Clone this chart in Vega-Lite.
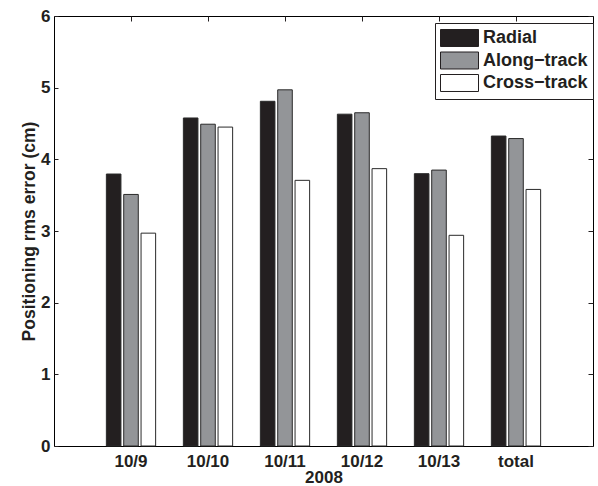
{
  "$schema": "https://vega.github.io/schema/vega-lite/v6.json",
  "width": 539,
  "height": 430,
  "autosize": {"type": "none"},
  "padding": {"left": 54, "top": 16, "right": 5, "bottom": 40},
  "background": "white",
  "config": {
    "view": {"stroke": "black", "strokeWidth": 1},
    "font": "Liberation Sans",
    "axis": {"grid": false, "labelFont": "Liberation Sans", "titleFont": "Liberation Sans", "labelFontWeight": "bold", "titleFontWeight": "bold", "labelColor": "#231f20", "titleColor": "#231f20", "domain": false, "tickColor": "#231f20"}
  },
  "data": {
    "values": [
      {"date": "10/9", "comp": "Radial", "rms": 3.795},
      {"date": "10/9", "comp": "Along−track", "rms": 3.51},
      {"date": "10/9", "comp": "Cross−track", "rms": 2.97},
      {"date": "10/10", "comp": "Radial", "rms": 4.577},
      {"date": "10/10", "comp": "Along−track", "rms": 4.49},
      {"date": "10/10", "comp": "Cross−track", "rms": 4.45},
      {"date": "10/11", "comp": "Radial", "rms": 4.81},
      {"date": "10/11", "comp": "Along−track", "rms": 4.97},
      {"date": "10/11", "comp": "Cross−track", "rms": 3.707},
      {"date": "10/12", "comp": "Radial", "rms": 4.63},
      {"date": "10/12", "comp": "Along−track", "rms": 4.65},
      {"date": "10/12", "comp": "Cross−track", "rms": 3.87},
      {"date": "10/13", "comp": "Radial", "rms": 3.8},
      {"date": "10/13", "comp": "Along−track", "rms": 3.85},
      {"date": "10/13", "comp": "Cross−track", "rms": 2.94},
      {"date": "total", "comp": "Radial", "rms": 4.325},
      {"date": "total", "comp": "Along−track", "rms": 4.29},
      {"date": "total", "comp": "Cross−track", "rms": 3.58}
    ]
  },
  "layer": [
    {
      "mark": {"type": "bar", "stroke": "#2a2a2a", "strokeWidth": 1},
      "encoding": {
        "x": {
          "field": "date", "type": "nominal", "sort": null,
          "scale": {"paddingInner": 0, "paddingOuter": 0.5},
          "axis": {"orient": "bottom", "labelAngle": 0, "labelFontSize": 17, "labelPadding": 7, "ticks": false, "title": "2008", "titleFontSize": 17, "titlePadding": 0}
        },
        "xOffset": {
          "field": "comp", "type": "nominal", "sort": null,
          "scale": {"paddingInner": 0.16, "paddingOuter": 0.8}
        },
        "y": {
          "field": "rms", "type": "quantitative",
          "scale": {"domain": [0, 6], "nice": false, "zero": true},
          "axis": {"orient": "left", "values": [0, 1, 2, 3, 4, 5, 6], "format": "d", "labelFontSize": 17, "tickSize": -4, "labelPadding": 8, "title": "Positioning rms error (cm)", "titleFontSize": 17.5, "titlePadding": 2}
        },
        "fill": {
          "field": "comp", "type": "nominal", "sort": null,
          "scale": {"domain": ["Radial", "Along−track", "Cross−track"], "range": ["#231f20", "#939598", "#ffffff"]},
          "legend": {
            "orient": "none", "legendX": 381, "legendY": 7, "title": null,
            "strokeColor": "#231f20", "fillColor": "white", "padding": 5,
            "symbolType": "M-1,-0.894H3V0.894H-1Z", "symbolSize": 361,
            "symbolStrokeColor": "#231f20", "symbolStrokeWidth": 1,
            "labelFont": "Liberation Sans", "labelFontWeight": "bold", "labelFontSize": 18, "labelColor": "#231f20",
            "labelOffset": 23, "rowPadding": 0.5, "zindex": 2
          }
        }
      }
    },
    {
      "mark": {"type": "bar", "opacity": 0},
      "encoding": {
        "x": {"field": "date", "type": "nominal", "sort": null, "axis": {"orient": "top", "labels": false, "tickSize": -5, "title": null}},
        "y": {"field": "rms", "type": "quantitative", "axis": {"orient": "right", "values": [0, 1, 2, 3, 4, 5, 6], "labels": false, "tickSize": -5, "title": null}}
      }
    }
  ],
  "resolve": {"axis": {"x": "independent", "y": "independent"}}
}
